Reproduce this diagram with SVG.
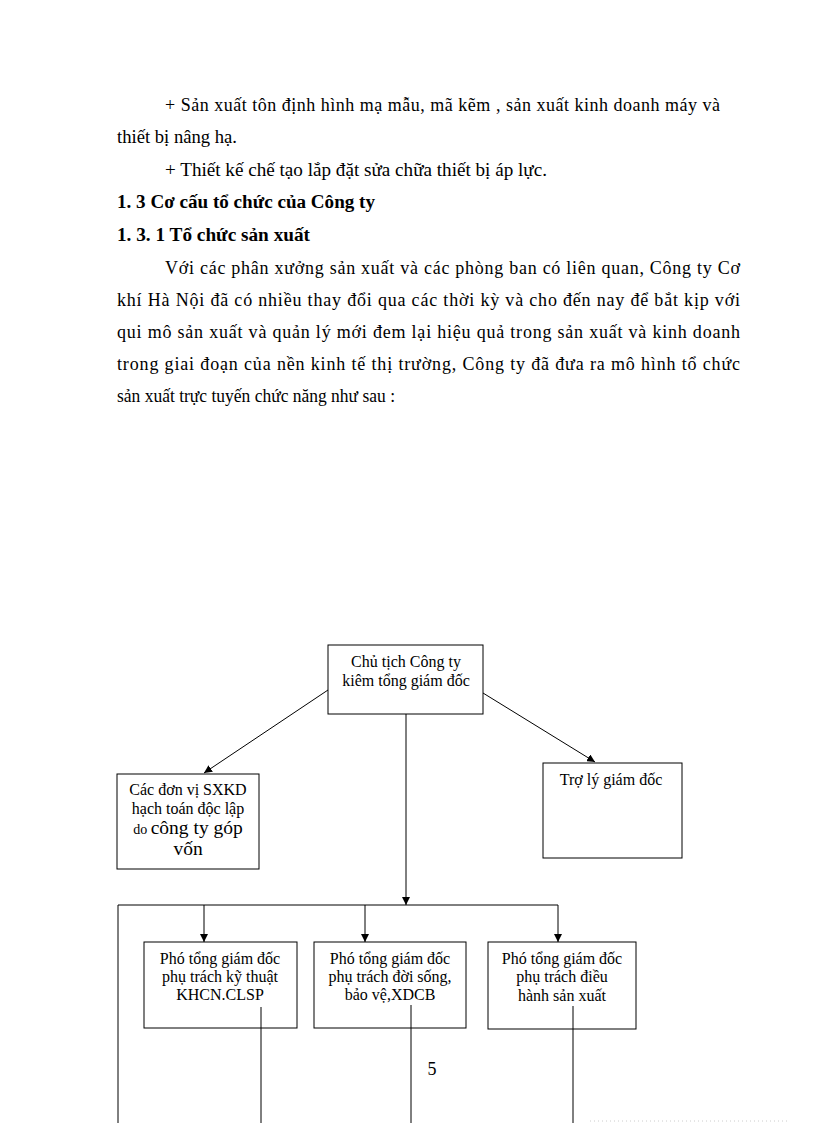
<svg xmlns="http://www.w3.org/2000/svg" width="816" height="1123" viewBox="0 0 816 1123">
<style>
.body{font-family:"Liberation Serif","Times New Roman",serif;font-size:18px;fill:#000}
.bold{font-weight:bold}
.box{fill:#fff;stroke:#000;stroke-width:1}
.lbl{font-family:"Liberation Serif","Times New Roman",serif;font-size:16px;fill:#000;text-anchor:middle}
.big{font-size:19.5px}
.con{stroke:#000;stroke-width:1;fill:none}
</style>
<defs>
<marker id="arr" viewBox="0 0 10 10" refX="10" refY="5" markerWidth="8" markerHeight="8" markerUnits="userSpaceOnUse" orient="auto">
<path d="M0,0 L10,5 L0,10 z" fill="#000"/>
</marker>
</defs>
<rect width="816" height="1123" fill="#fff"/>
<g id="text-body">
<text class="body" x="165" y="111" textLength="555" lengthAdjust="spacing">+ Sản xuất tôn định hình mạ mẫu, mã kẽm , sản xuất kinh  doanh máy và</text>
<text class="body" x="117" y="143" textLength="120" lengthAdjust="spacingAndGlyphs">thiết  bị nâng hạ.</text>
<text class="body" x="165" y="176" textLength="382" lengthAdjust="spacingAndGlyphs">+ Thiết kế chế tạo lắp đặt sửa chữa thiết  bị áp lực.</text>
<text class="body bold" x="117" y="208" textLength="258" lengthAdjust="spacingAndGlyphs">1. 3 Cơ cấu tổ chức của Công ty</text>
<text class="body bold" x="117" y="241" textLength="193" lengthAdjust="spacingAndGlyphs">1. 3. 1 Tổ chức sản xuất</text>
<text class="body" x="165" y="274" textLength="575" lengthAdjust="spacing">Với các phân xưởng sản xuất và các phòng ban có liên  quan, Công ty Cơ</text>
<text class="body" x="117" y="306" textLength="623" lengthAdjust="spacing">khí Hà Nội đã có nhiều thay đổi qua các thời kỳ và cho đến nay để bắt kịp với</text>
<text class="body" x="117" y="338" textLength="623" lengthAdjust="spacing">qui mô sản xuất và quản lý mới đem lại hiệu quả trong sản xuất và kinh  doanh</text>
<text class="body" x="117" y="370" textLength="623" lengthAdjust="spacing">trong giai  đoạn của nền kinh tế thị trường, Công ty đã đưa ra mô hình tổ chức</text>
<text class="body" x="117" y="402" textLength="278" lengthAdjust="spacingAndGlyphs">sản xuất trực tuyến chức năng như sau :</text>
</g>
<g id="connectors">
<line class="con" x1="328" y1="690" x2="204" y2="773" marker-end="url(#arr)"/>
<line class="con" x1="483" y1="693" x2="595" y2="762" marker-end="url(#arr)"/>
<line class="con" x1="406" y1="714" x2="406" y2="905" marker-end="url(#arr)"/>
<line class="con" x1="118" y1="905" x2="558" y2="905"/>
<line class="con" x1="204" y1="905" x2="204" y2="942" marker-end="url(#arr)"/>
<line class="con" x1="365" y1="905" x2="365" y2="942" marker-end="url(#arr)"/>
<line class="con" x1="558" y1="905" x2="558" y2="942" marker-end="url(#arr)"/>
<line class="con" x1="118" y1="905" x2="118" y2="1123"/>
</g>
<g id="node-chutich">
<rect class="box" x="328" y="645" width="155" height="69"/>
<text class="lbl" x="406" y="667">Chủ tịch  Công ty</text>
<text class="lbl" x="406" y="686">kiêm  tổng giám  đốc</text>
</g>
<g id="node-donvi">
<rect class="box" x="117" y="774" width="142" height="95"/>
<text class="lbl" x="188" y="795">Các đơn vị  SXKD</text>
<text class="lbl" x="188" y="814">hạch  toán độc lập</text>
<text class="lbl" x="188" y="834"><tspan font-size="14px">do </tspan><tspan class="big">công ty góp</tspan></text>
<text class="lbl big" x="188" y="855">vốn</text>
</g>
<g id="node-troly">
<rect class="box" x="543" y="763" width="139" height="95"/>
<text class="lbl" x="611" y="785">Trợ lý giám  đốc</text>
</g>
<g id="node-pho1">
<rect class="box" x="144" y="942" width="153" height="86"/>
<text class="lbl" x="220" y="964">Phó tổng giám  đốc</text>
<text class="lbl" x="220" y="982">phụ trách kỹ thuật</text>
<text class="lbl" x="220" y="1000">KHCN.CLSP</text>
</g>
<g id="node-pho2">
<rect class="box" x="314" y="942" width="152" height="86"/>
<text class="lbl" x="390" y="964">Phó tổng giám  đốc</text>
<text class="lbl" x="390" y="982">phụ trách đời sống,</text>
<text class="lbl" x="390" y="1000">bảo vệ,XDCB</text>
</g>
<g id="node-pho3">
<rect class="box" x="488" y="942" width="148" height="87"/>
<text class="lbl" x="562" y="964">Phó tổng giám  đốc</text>
<text class="lbl" x="562" y="982">phụ trách điều</text>
<text class="lbl" x="562" y="1001">hành  sản xuất</text>
</g>
<g id="connectors-down">
<line class="con" x1="261" y1="1007" x2="261" y2="1123"/>
<line class="con" x1="411" y1="1005" x2="411" y2="1123"/>
<line class="con" x1="573" y1="1006" x2="573" y2="1123"/>
</g>
<text class="body" x="432" y="1075" text-anchor="middle" font-size="16px">5</text>
<line x1="590" y1="1121" x2="790" y2="1121" stroke="#ccc" stroke-width="1" stroke-dasharray="1,3"/>
</svg>
